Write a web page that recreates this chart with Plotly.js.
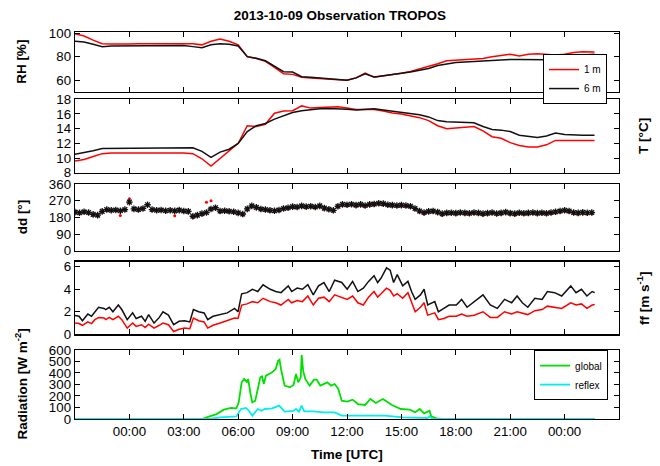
<!DOCTYPE html>
<html><head><meta charset="utf-8">
<script src="https://cdn.plot.ly/plotly-3.0.1.min.js"></script>
<style>html,body{margin:0;padding:0;background:#fff}#chart{width:660px;height:466px}</style>
</head><body><div id="chart"></div>
<script>
// ---- data (hours relative to 2013-10-09 00:00 UTC) ----
const tickHours = [0,3,6,9,12,15,18,21,24];

const rhHours = [-3,-2.5,-2,-1.5,-1,-0.5,0,0.5,1,1.5,2,2.5,3,3.5,4,4.5,5,5.5,6,6.5,7,7.5,8,8.5,9,9.5,10,10.5,11,11.5,12,12.5,13,13.5,14,14.5,15,15.5,16,16.5,17,17.5,18,18.5,19,19.5,20,20.5,21,21.5,22,22.5,23,23.5,24,24.5,25,25.5,25.65];
const rh1m = [99.5,97.5,94,91,90.8,90.5,90.8,91,91,91.3,91,91.5,91.5,91,90,93,95,93,90,80,78.5,76,71,65.5,65,62.5,62,61.4,61,60.5,60,62,66,62.5,63.5,64.5,66,67.5,69.5,71.5,74,76.5,77,77.6,78,78.5,80,81,82,80.5,82,82.4,82,81.5,82,83.5,84.2,84,84];
const rh6m = [93,92.4,90.5,88.5,89,89,89,89.3,89.5,89,89.3,89.5,89.5,88.5,87.6,90,91,90.5,89,80,78.6,76.5,72,67.3,67,63,62.5,62,61.2,60.8,60,62,65.4,62.8,63.8,64.6,65.8,67,68.5,70,72.5,74,75,75.5,76,76.3,76.8,77.2,77.6,77.5,77.3,77.3,77.3,77.5,79.5,81,81.5,82,82];

const t1m = [9.6,9.8,10.2,10.6,10.7,10.7,10.7,10.7,10.7,10.7,10.8,10.8,10.7,10.6,9.9,8.9,9.9,11.0,12.0,14.4,14.3,14.6,16.1,16.4,16.45,17.1,16.8,16.9,16.95,16.97,16.8,16.6,16.6,16.6,16.4,16.14,16.0,15.8,15.5,15.1,14.4,14.0,14.1,14.2,14.3,13.7,12.9,12.7,12.1,11.7,11.5,11.5,11.8,12.4,12.4,12.3,12.3,12.4,12.4];
const t6m = [10.5,10.7,11.0,11.3,11.3,11.3,11.3,11.4,11.4,11.3,11.3,11.4,11.3,11.4,10.9,10.1,10.8,11.2,12.0,13.6,14.4,14.7,15.3,15.8,16.2,16.45,16.6,16.7,16.74,16.74,16.65,16.55,16.6,16.7,16.55,16.4,16.3,16.14,15.9,15.6,15.1,14.95,14.9,14.95,14.8,14.3,13.9,13.8,13.6,13.1,12.9,12.8,13.0,13.4,13.2,13.1,13.1,13.1,13.1];

const ddHours = [-3,-2.75,-2.5,-2.25,-2,-1.75,-1.5,-1.25,-1,-0.75,-0.5,-0.25,0,0.25,0.5,0.75,1,1.25,1.5,1.75,2,2.25,2.5,2.75,3,3.25,3.5,3.75,4,4.25,4.5,4.75,5,5.25,5.5,5.75,6,6.25,6.5,6.75,7,7.25,7.5,7.75,8,8.25,8.5,8.75,9,9.25,9.5,9.75,10,10.25,10.5,10.75,11,11.25,11.5,11.75,12,12.25,12.5,12.75,13,13.25,13.5,13.75,14,14.25,14.5,14.75,15,15.25,15.5,15.75,16,16.25,16.5,16.75,17,17.25,17.5,17.75,18,18.25,18.5,18.75,19,19.25,19.5,19.75,20,20.25,20.5,20.75,21,21.25,21.5,21.75,22,22.25,22.5,22.75,23,23.25,23.5,23.75,24,24.25,24.5,24.75,25,25.25,25.5];
const dd6m = [208,205,210,206,196,192,212,222,218,220,216,222,262,226,222,228,248,222,218,220,216,218,215,219,214,212,186,192,200,206,225,232,214,216,213,210,204,198,226,242,234,225,222,218,216,220,228,232,238,236,242,238,240,236,242,230,224,218,240,250,248,251,246,250,244,250,252,256,254,248,246,244,246,244,240,228,214,206,212,214,208,200,204,205,203,206,204,202,206,204,200,203,206,201,204,208,203,200,205,202,204,206,203,205,202,206,210,214,218,214,206,204,207,205,206];
const dd1m = [204,200,206,200,190,186,208,216,214,216,190,218,280,222,216,224,244,216,214,216,212,214,188,214,210,206,178,186,196,262,270,226,208,212,208,206,200,192,220,236,230,220,216,212,210,214,222,226,232,230,236,232,234,230,236,224,218,212,234,244,242,246,240,244,238,244,246,250,248,242,240,238,240,238,234,222,208,198,206,208,202,192,198,199,196,200,197,195,200,197,193,196,200,194,197,202,196,193,198,195,197,200,196,198,195,199,204,208,212,208,200,197,200,198,200];

const ffHours = [-3.00,-2.78,-2.59,-2.29,-2.09,-1.90,-1.70,-1.40,-1.30,-1.11,-0.91,-0.61,-0.42,-0.12,0.18,0.37,0.67,0.87,1.06,1.36,1.65,1.85,2.15,2.44,2.74,3.04,3.33,3.53,3.82,4.12,4.32,4.61,5.01,5.40,5.80,5.99,6.19,6.49,6.78,7.08,7.37,7.77,8.07,8.36,8.76,8.95,9.25,9.54,9.84,10.14,10.43,10.73,11.02,11.32,11.71,12.01,12.31,12.60,12.90,13.19,13.49,13.69,13.88,14.18,14.38,14.57,14.77,15.07,15.36,15.56,15.76,16.05,16.25,16.45,16.84,17.04,17.34,17.63,18.03,18.32,18.62,19.01,19.50,19.90,20.29,20.69,21.08,21.38,21.67,21.97,22.36,22.76,23.05,23.45,23.84,24.34,24.63,24.93,25.23,25.52,25.66];
const ff6m = [1.68,1.6,1.2,1.8,1.6,2.0,2.4,2.3,2.2,2.4,2.0,2.6,2.2,1.3,1.9,1.4,1.6,1.15,1.75,1.0,1.5,2.0,1.7,0.85,1.15,1.2,1.1,2.2,2.0,1.9,1.3,1.6,1.75,1.9,2.3,2.0,3.6,3.7,4.0,3.8,4.4,4.0,3.8,3.7,4.3,3.8,4.1,4.0,4.4,3.5,4.3,4.6,3.8,4.8,4.6,4.0,4.7,3.8,4.1,4.7,5.2,4.6,5.0,5.9,5.7,4.6,5.3,4.3,4.7,3.8,3.1,3.5,4.0,2.6,2.9,2.0,2.3,2.6,2.6,3.1,2.4,2.9,3.5,2.6,2.3,3.1,2.8,3.4,2.8,2.4,3.2,3.1,3.8,3.7,3.4,4.3,3.7,4.0,3.4,3.8,3.7];
const ff1m = [1.0,0.95,0.8,1.1,0.95,1.3,1.5,1.45,1.3,1.5,1.3,1.6,1.3,0.55,1.0,0.7,0.85,0.6,0.9,0.55,0.8,1.0,0.85,0.25,0.45,0.55,0.5,1.45,1.2,1.1,0.55,0.8,1.0,1.2,1.45,1.4,2.6,2.7,2.9,2.8,3.2,2.9,2.8,2.6,3.1,2.8,3.0,2.9,3.4,2.6,3.2,3.3,2.9,3.5,3.3,3.1,3.4,2.8,2.6,3.3,3.8,3.3,3.6,4.1,3.9,3.4,3.6,3.2,3.7,2.8,2.0,2.4,2.8,1.7,1.9,1.3,1.4,1.6,1.6,1.8,1.6,1.7,2.0,1.5,1.5,2.0,1.8,2.0,1.9,1.75,2.1,2.2,2.5,2.4,2.3,2.8,2.6,2.7,2.3,2.6,2.65];

const globalHours = [-3,4.0,4.42,4.81,5.21,5.60,5.90,6.03,6.19,6.33,6.49,6.55,6.68,6.78,6.94,7.08,7.22,7.32,7.41,7.53,7.87,8.07,8.20,8.28,8.36,8.56,8.85,9.05,9.19,9.31,9.45,9.50,9.58,9.70,9.94,10.18,10.33,10.53,10.73,10.92,11.12,11.32,11.52,11.71,12.01,12.31,12.60,13.00,13.29,13.59,13.98,14.48,14.97,15.46,15.76,16.01,16.25,16.55,16.64,16.94,17.24,25.66];
const globalRad = [0,0,23,43,81,96,93,145,319,348,319,348,217,145,159,261,362,371,304,377,406,435,507,516,435,290,275,296,391,319,362,557,420,348,290,342,342,290,304,319,290,304,261,159,151,168,130,122,174,139,174,122,87,81,58,87,49,72,23,6,0,0];
const reflexHours = [-3,4.42,5.0,5.9,6.15,6.43,6.59,6.78,7.08,7.28,7.47,7.87,8.26,8.56,9.05,9.19,9.35,9.50,9.64,10.14,10.73,11.32,11.71,12.50,13.49,14.08,15.07,16.45,16.55,16.7,17.04,25.66];
const reflexRad = [0,0,14,23,87,96,72,29,87,72,87,93,116,64,70,87,64,116,67,67,58,58,29,29,23,29,14,9,23,3,0,0];

// ---- helpers ----
const BASE = Date.UTC(2013, 9, 9, 0, 0, 0);
const H = 3600000;
const toTime = hs => hs.map(h => BASE + h * H);

const FONT = '"Liberation Sans", Arial, Helvetica, sans-serif';
const RED = '#ff0000', BLACK = '#111111', GREEN = '#00e000', CYAN = '#00eeee';

const traces = [
  {x: toTime(rhHours), y: rh1m, name: '1 m', mode: 'lines', line: {color: RED, width: 1.5}, xaxis: 'x', yaxis: 'y', legend: 'legend'},
  {x: toTime(rhHours), y: rh6m, name: '6 m', mode: 'lines', line: {color: BLACK, width: 1.5}, xaxis: 'x', yaxis: 'y', legend: 'legend'},
  {x: toTime(rhHours), y: t1m, mode: 'lines', line: {color: RED, width: 1.5}, xaxis: 'x2', yaxis: 'y2', showlegend: false},
  {x: toTime(rhHours), y: t6m, mode: 'lines', line: {color: BLACK, width: 1.5}, xaxis: 'x2', yaxis: 'y2', showlegend: false},
  {x: toTime(ddHours), y: dd1m, mode: 'markers', marker: {color: RED, size: 3, symbol: 'circle'}, xaxis: 'x3', yaxis: 'y3', showlegend: false},
  {x: toTime(ddHours), y: dd6m, mode: 'markers', marker: {color: BLACK, size: 5.5, symbol: 'asterisk-open', line: {color: '#222', width: 1.3}}, xaxis: 'x3', yaxis: 'y3', showlegend: false},
  {x: toTime(ffHours), y: ff1m, mode: 'lines', line: {color: RED, width: 1.5}, xaxis: 'x4', yaxis: 'y4', showlegend: false},
  {x: toTime(ffHours), y: ff6m, mode: 'lines', line: {color: BLACK, width: 1.5}, xaxis: 'x4', yaxis: 'y4', showlegend: false},
  {x: toTime(globalHours), y: globalRad, name: 'global', mode: 'lines', line: {color: GREEN, width: 1.8}, xaxis: 'x5', yaxis: 'y5', legend: 'legend2'},
  {x: toTime(reflexHours), y: reflexRad, name: 'reflex', mode: 'lines', line: {color: CYAN, width: 1.8}, xaxis: 'x5', yaxis: 'y5', legend: 'legend2'}
];

const xRange = [BASE - 3 * H, BASE + 27 * H];
function xAxis(anchor, labels) {
  return {
    type: 'date', range: xRange, anchor: anchor,
    tickvals: toTime(tickHours), tickformat: '%H:%M',
    showticklabels: labels, ticks: 'inside', ticklen: 5, tickwidth: 1, tickcolor: '#000',
    showline: true, linecolor: '#000', linewidth: 1.3, mirror: 'ticks',
    showgrid: false, zeroline: false,
    tickfont: {family: FONT, size: 13.3, color: '#000'}
  };
}
function yAxis(domain, range, tickvals) {
  return {
    domain: domain, range: range, tickvals: tickvals,
    ticks: 'inside', ticklen: 5, tickwidth: 1, tickcolor: '#000',
    showline: true, linecolor: '#000', linewidth: 1.3, mirror: 'ticks',
    showgrid: false, zeroline: false,
    tickfont: {family: FONT, size: 13.3, color: '#000'}
  };
}

const d1 = [0.8457, 1.0], d2 = [0.6364, 0.8261], d3 = [0.4349, 0.6072], d4 = [0.2189, 0.4065], d5 = [0, 0.1783];
const mid = d => (d[0] + d[1]) / 2;
const titleFont = {family: FONT, size: 13.5, color: '#000'};
function yTitle(text, x, d) {
  return {text: '<b>' + text + '</b>', xref: 'paper', yref: 'paper', x: x, y: mid(d), textangle: -90,
          showarrow: false, xanchor: 'center', yanchor: 'middle', font: titleFont};
}

const layout = {
  width: 660, height: 466,
  margin: {l: 75, r: 41, t: 32, b: 47},
  paper_bgcolor: '#fff', plot_bgcolor: '#fff',
  title: {text: '<b>2013-10-09 Observation TROPOS</b>', font: titleFont, x: 0.487, xref: 'paper', xanchor: 'center', y: 1 - 15 / 466, yref: 'container', yanchor: 'middle'},
  xaxis: xAxis('y', false),
  xaxis2: xAxis('y2', false),
  xaxis3: xAxis('y3', false),
  xaxis4: xAxis('y4', false),
  xaxis5: xAxis('y5', true),
  yaxis: yAxis(d1, [50.3, 100.9], [60, 80, 100]),
  yaxis2: yAxis(d2, [8, 18], [8, 10, 12, 14, 16, 18]),
  yaxis3: yAxis(d3, [0, 360], [0, 90, 180, 270, 360]),
  yaxis4: yAxis(d4, [0, 6.45], [0, 2, 4, 6]),
  yaxis5: yAxis(d5, [0, 600], [0, 100, 200, 300, 400, 500, 600]),
  legend: {x: 0.978, y: 0.943, xanchor: 'right', yanchor: 'top', xref: 'paper', yref: 'paper',
           bgcolor: '#fff', bordercolor: '#000', borderwidth: 1, itemwidth: 30, tracegroupgap: 0,
           font: {family: FONT, size: 10, color: '#000'}},
  legend2: {x: 0.98, y: 0.178, xanchor: 'right', yanchor: 'top', xref: 'paper', yref: 'paper',
            bgcolor: '#fff', bordercolor: '#000', borderwidth: 1, itemwidth: 30, tracegroupgap: 0,
            font: {family: FONT, size: 10, color: '#000'}},
  annotations: [
    yTitle('RH [%]', -0.0974, d1),
    yTitle('T [°C]', 1.044, d2),
    yTitle('dd [°]', -0.0974, d3),
    yTitle('ff [m s<sup>-1</sup>]', 1.044, d4),
    yTitle('Radiation [W m<sup>-2</sup>]', -0.0974, d5),
    {text: '<b>Time [UTC]</b>', xref: 'paper', yref: 'paper', x: 0.5, y: -0.093, showarrow: false,
     xanchor: 'center', yanchor: 'middle', font: titleFont}
  ]
};

Plotly.newPlot('chart', traces, layout, {displayModeBar: false, staticPlot: true});
</script>
</body></html>
